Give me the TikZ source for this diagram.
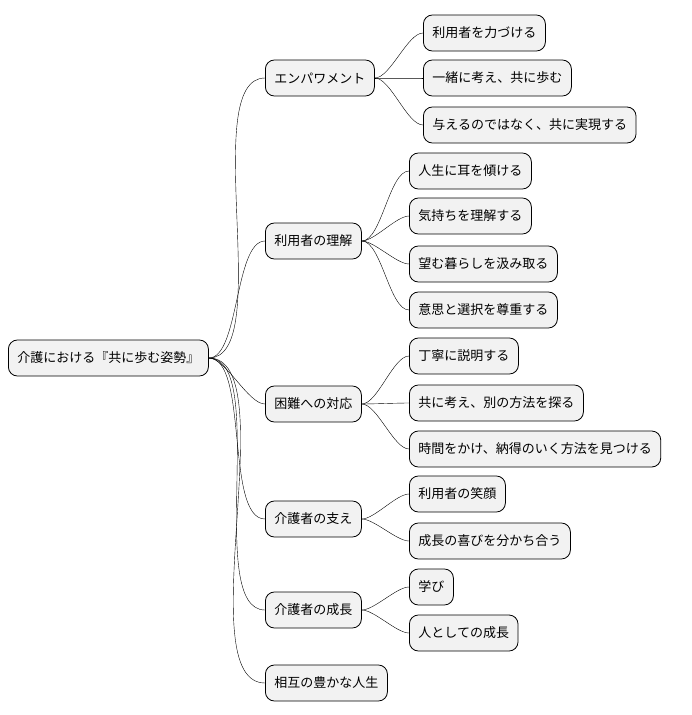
\documentclass[tikz,border=0pt]{standalone}
\usepackage{fontspec}
\newfontfamily\cjk{Noto Sans CJK JP}
\usetikzlibrary{positioning}

\tikzset{
  topic/.style = {draw, thick, rounded corners=9pt, fill=gray!10, anchor=west,
    minimum height=36pt, inner xsep=9pt, font=\cjk\fontsize{13}{15}\selectfont},
  branch/.style = {thin, out=0, in=180, looseness=0.6}
}

\begin{document}
\begin{tikzpicture}[x=1pt,y=-1pt]
  \useasboundingbox (0,0) rectangle (692,715);

  \node[topic] (root) at (8,358) {介護における『共に歩む姿勢』};

  \node[topic] (emp) at (265,78) {エンパワメント};
  \node[topic] (und) at (265,241) {利用者の理解};
  \node[topic] (dif) at (265,404) {困難への対応};
  \node[topic] (sup) at (265,519) {介護者の支え};
  \node[topic] (gro) at (265,610) {介護者の成長};
  \node[topic] (lif) at (265,683) {相互の豊かな人生};

  \node[topic] (emp1) at (423,33) {利用者を力づける};
  \node[topic] (emp2) at (423,78) {一緒に考え、共に歩む};
  \node[topic] (emp3) at (423,125) {与えるのではなく、共に実現する};

  \node[topic] (und1) at (409,171) {人生に耳を傾ける};
  \node[topic] (und2) at (409,216) {気持ちを理解する};
  \node[topic] (und3) at (409,264) {望む暮らしを汲み取る};
  \node[topic] (und4) at (409,310) {意思と選択を尊重する};

  \node[topic] (dif1) at (409,356) {丁寧に説明する};
  \node[topic] (dif2) at (409,403) {共に考え、別の方法を探る};
  \node[topic] (dif3) at (409,449) {時間をかけ、納得のいく方法を見つける};

  \node[topic] (sup1) at (409,494) {利用者の笑顔};
  \node[topic] (sup2) at (409,541) {成長の喜びを分かち合う};

  \node[topic] (gro1) at (409,587) {学び};
  \node[topic] (gro2) at (409,633) {人としての成長};

  % branches
  \foreach \c in {emp,und,dif,sup,gro,lif}
    \draw[branch] (root.east) to (\c.west);
  \foreach \c in {emp1,emp2,emp3}
    \draw[branch] (emp.east) to (\c.west);
  \foreach \c in {und1,und2,und3,und4}
    \draw[branch] (und.east) to (\c.west);
  \foreach \c in {dif1,dif2,dif3}
    \draw[branch] (dif.east) to (\c.west);
  \foreach \c in {sup1,sup2}
    \draw[branch] (sup.east) to (\c.west);
  \foreach \c in {gro1,gro2}
    \draw[branch] (gro.east) to (\c.west);
\end{tikzpicture}
\end{document}
